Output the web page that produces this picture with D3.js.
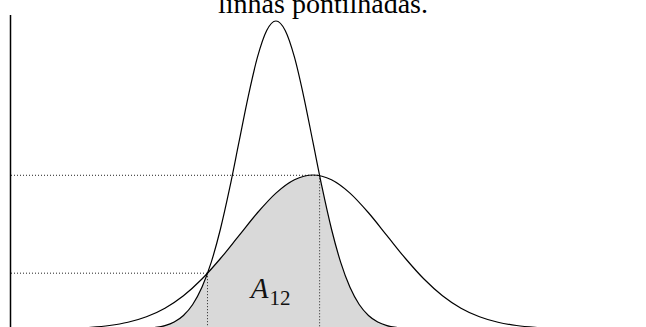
<!DOCTYPE html>
<html>
<head>
<meta charset="utf-8">
<script src="https://cdn.jsdelivr.net/npm/d3@7"></script>
<style>
  html, body { margin: 0; padding: 0; background: #fff; }
  svg { display: block; }
</style>
</head>
<body>
<svg id="chart" width="646" height="327"></svg>
<script>
// Narrow distribution (mean 0, sd 1): sampled x and density values
const narrowX = [-4,-3.75,-3.5,-3.25,-3,-2.75,-2.5,-2.25,-2,-1.75,-1.5,-1.25,-1,-0.75,-0.5,-0.25,0,
                 0.25,0.5,0.75,1,1.25,1.5,1.75,2,2.25,2.5,2.75,3,3.25,3.5,3.75,4];
const narrowY = [0.000134,0.000353,0.000873,0.002029,0.004432,0.009094,0.017528,0.031740,0.053991,
                 0.086277,0.129518,0.182649,0.241971,0.301137,0.352065,0.386668,0.398942,
                 0.386668,0.352065,0.301137,0.241971,0.182649,0.129518,0.086277,0.053991,
                 0.031740,0.017528,0.009094,0.004432,0.002029,0.000873,0.000353,0.000134];
// Wide distribution (mean 1, sd 2)
const wideX = [-7,-6.5,-6,-5.5,-5,-4.5,-4,-3.5,-3,-2.5,-2,-1.5,-1,-0.5,0,0.5,1,
               1.5,2,2.5,3,3.5,4,4.5,5,5.5,6,6.5,7,7.5,8,8.5,9];
const wideY = [0.000067,0.000177,0.000437,0.001015,0.002216,0.004547,0.008764,0.015870,0.026995,
               0.043139,0.064759,0.091325,0.120985,0.150569,0.176033,0.193334,0.199471,
               0.193334,0.176033,0.150569,0.120985,0.091325,0.064759,0.043139,0.026995,
               0.015870,0.008764,0.004547,0.002216,0.001015,0.000437,0.000177,0.000067];
// Intersection points of the two curves
const crossX = [-1.85, 1.18];
const crossY = [0.0723, 0.1991];
const titleText = "linhas pontilhadas.";
const areaLabel = "A";
const areaSub = "12";

const svg = d3.select("#chart");
const W = 646, H = 327;

const x = d3.scaleLinear().domain([-7.16, 10]).range([11, 646]);
const y = d3.scaleLinear().domain([0, 0.4]).range([329, 20.2]);

const narrow = narrowX.map((v, i) => ({x: v, y: narrowY[i]}));
const wide = wideX.map((v, i) => ({x: v, y: wideY[i]}));

const line = d3.line().x(d => x(d.x)).y(d => y(d.y)).curve(d3.curveMonotoneX);
const area = d3.area().x(d => x(d.x)).y0(y(0)).y1(d => y(d.y)).curve(d3.curveMonotoneX);

// clip: region under the wide curve
svg.append("defs").append("clipPath").attr("id", "underWide")
  .append("path").attr("d", area(wide));

// shaded overlap = area under narrow clipped to area under wide
svg.append("path")
  .attr("d", area(narrow))
  .attr("clip-path", "url(#underWide)")
  .attr("fill", "#d9d9d9");

// dotted guide lines
const dot = {stroke: "#222", "stroke-width": 1, "stroke-dasharray": "1,2"};
crossX.forEach((cx, i) => {
  svg.append("line")
    .attr("x1", x(-7.16)).attr("x2", x(cx))
    .attr("y1", y(crossY[i])).attr("y2", y(crossY[i]))
    .attr("stroke", dot.stroke).attr("stroke-width", dot["stroke-width"])
    .attr("stroke-dasharray", dot["stroke-dasharray"]);
  svg.append("line")
    .attr("x1", x(cx)).attr("x2", x(cx))
    .attr("y1", y(crossY[i])).attr("y2", H)
    .attr("stroke", dot.stroke).attr("stroke-width", dot["stroke-width"])
    .attr("stroke-dasharray", dot["stroke-dasharray"]);
});

// curves
[narrow, wide].forEach(d => {
  svg.append("path").attr("d", line(d))
    .attr("fill", "none").attr("stroke", "#000").attr("stroke-width", 1.2);
});

// vertical axis (no ticks)
const yAxis = d3.axisLeft(y).tickValues([]).tickSizeOuter(0);
const gAxis = svg.append("g").attr("transform", `translate(${x(-7.16) - 0.5},0)`).call(yAxis);
gAxis.select(".domain").attr("stroke", "#000").attr("stroke-width", 1.5)
  .attr("d", `M0,15V${H}`);

// title (cut off at top)
svg.append("text")
  .attr("x", 323).attr("y", 13)
  .attr("text-anchor", "middle")
  .attr("font-family", "'Liberation Serif', 'Times New Roman', serif")
  .attr("font-size", 28)
  .attr("fill", "#000")
  .text(titleText);

// area label
const lab = svg.append("text")
  .attr("x", x(-0.68)).attr("y", y(0.0400))
  .attr("font-family", "'Liberation Serif', serif")
  .attr("fill", "#111");
lab.append("tspan").attr("font-style", "italic").attr("font-size", 29).text(areaLabel);
lab.append("tspan").attr("font-size", 21).attr("dx", 1).attr("dy", 7).text(areaSub);
</script>
</body>
</html>
